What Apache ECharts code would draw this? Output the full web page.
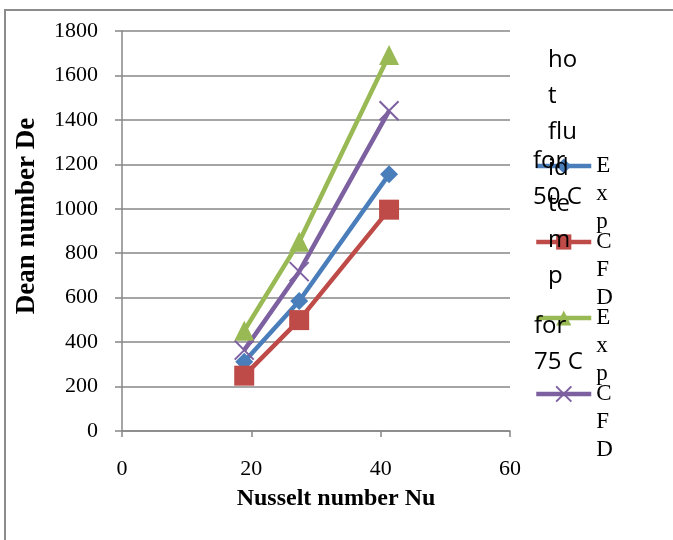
<!DOCTYPE html>
<html>
<head>
<meta charset="utf-8">
<script src="https://cdn.jsdelivr.net/npm/echarts@6/dist/echarts.min.js"></script>
<style>
  html, body { margin: 0; padding: 0; background: #fff; }
  #chart { width: 673px; height: 540px; }
</style>
</head>
<body>
<div id="chart"></div>
<script>
// Nusselt number (x) for the three flow conditions
const nusselt = [18.9, 27.4, 41.3];

// Dean number (y) per series
const exp50 = [312, 585, 1155];
const cfd50 = [249, 499, 996];
const exp75 = [451, 852, 1692];
const cfd75 = [364, 717, 1441];

const seriesKeys = ['exp50', 'cfd50', 'exp75', 'cfd75'];
const seriesLabels = ['Exp', 'CFD', 'Exp', 'CFD'];
const seriesValues = [exp50, cfd50, exp75, cfd75];

const xTicks = { min: 0, max: 60, interval: 20 };
const yTicks = { min: 0, max: 1800, interval: 200 };

const colors = ['#4a7ebb', '#be4b48', '#98b954', '#7d60a0'];
const symbols = ['diamond', 'rect', 'triangle', 'path://M0,0L10,10M10,0L0,10'];
const symbolSizes = [18, 20, 20, 19];
const legendIconY = [166, 242, 318, 394];

const serif = '"Liberation Serif", "Times New Roman", serif';
const sans = '"Open Sans", "Noto Sans", sans-serif';
const gray = '#878787';

const chart = echarts.init(document.getElementById('chart'));

const series = seriesKeys.map((key, i) => ({
  name: key,
  type: 'line',
  data: nusselt.map((x, j) => [x, seriesValues[i][j]]),
  symbol: symbols[i],
  symbolSize: symbolSizes[i],
  lineStyle: { color: colors[i], width: 4.5 },
  itemStyle: i === 3
    ? { color: colors[i], borderColor: colors[i], borderWidth: 2 }
    : { color: colors[i], borderWidth: 0 },
  emphasis: { disabled: true },
  animation: false
}));

// One legend block per series; the label is wrapped one letter per line,
// with two blank lines ahead so the first letter sits level with the icon.
const legends = seriesKeys.map((key, i) => ({
  data: [key],
  orient: 'vertical',
  left: 534,
  top: legendIconY[i] - 70,
  padding: 0,
  itemGap: 0,
  itemWidth: 55,
  itemHeight: 19,
  selectedMode: false,
  lineStyle: { width: 4.5 },
  formatter: () => '\n\n' + seriesLabels[i].split('').join('\n'),
  textStyle: {
    fontFamily: serif,
    fontSize: 23,
    lineHeight: 28,
    color: '#000'
  }
}));

chart.setOption({
  backgroundColor: '#fff',
  animation: false,
  grid: { left: 122, right: 163, top: 31, bottom: 109 },
  xAxis: {
    type: 'value',
    min: xTicks.min,
    max: xTicks.max,
    interval: xTicks.interval,
    name: 'Nusselt number Nu',
    nameLocation: 'middle',
    nameGap: 56,
    nameTextStyle: {
      fontFamily: serif, fontSize: 24, fontWeight: 'bold', color: '#000',
      padding: [0, 0, 0, 40]
    },
    axisLine: { show: true, lineStyle: { color: gray, width: 1.5 } },
    axisTick: { show: true, length: 6, lineStyle: { color: gray, width: 1.5 } },
    axisLabel: { fontFamily: serif, fontSize: 22, color: '#000', margin: 27 },
    splitLine: { show: false }
  },
  yAxis: {
    type: 'value',
    min: yTicks.min,
    max: yTicks.max,
    interval: yTicks.interval,
    name: 'Dean number De',
    nameLocation: 'middle',
    nameGap: 81,
    nameTextStyle: {
      fontFamily: serif, fontSize: 27, fontWeight: 'bold', color: '#000',
      padding: [0, 0, 0, 30]
    },
    axisLine: { show: true, lineStyle: { color: gray, width: 1.5 } },
    axisTick: { show: true, length: 7, lineStyle: { color: gray, width: 1.5 } },
    axisLabel: {
      fontFamily: serif, fontSize: 22, color: '#000', margin: 24,
      formatter: (v) => String(v)
    },
    splitLine: { show: true, lineStyle: { color: gray, width: 1.5 } }
  },
  legend: legends,
  series: series,
  graphic: [
    {
      type: 'rect',
      silent: true,
      shape: { x: 5, y: 10, width: 800, height: 800 },
      style: { fill: null, stroke: '#8c8c8c', lineWidth: 2 },
      z: 0
    },
    {
      type: 'text',
      silent: true,
      left: 548,
      top: 42,
      z: 100,
      style: {
        text: 'ho\nt\nflu\nid\nte\nm\np',
        font: '24px ' + sans,
        lineHeight: 36,
        fill: '#000'
      }
    },
    {
      type: 'text',
      silent: true,
      left: 533,
      top: 143,
      z: 100,
      style: { text: 'for\n50 C', font: '24px ' + sans, lineHeight: 36, fill: '#000' }
    },
    {
      type: 'text',
      silent: true,
      left: 534,
      top: 308,
      z: 100,
      style: { text: 'for\n75 C', font: '24px ' + sans, lineHeight: 36, fill: '#000' }
    }
  ]
});
</script>
</body>
</html>
